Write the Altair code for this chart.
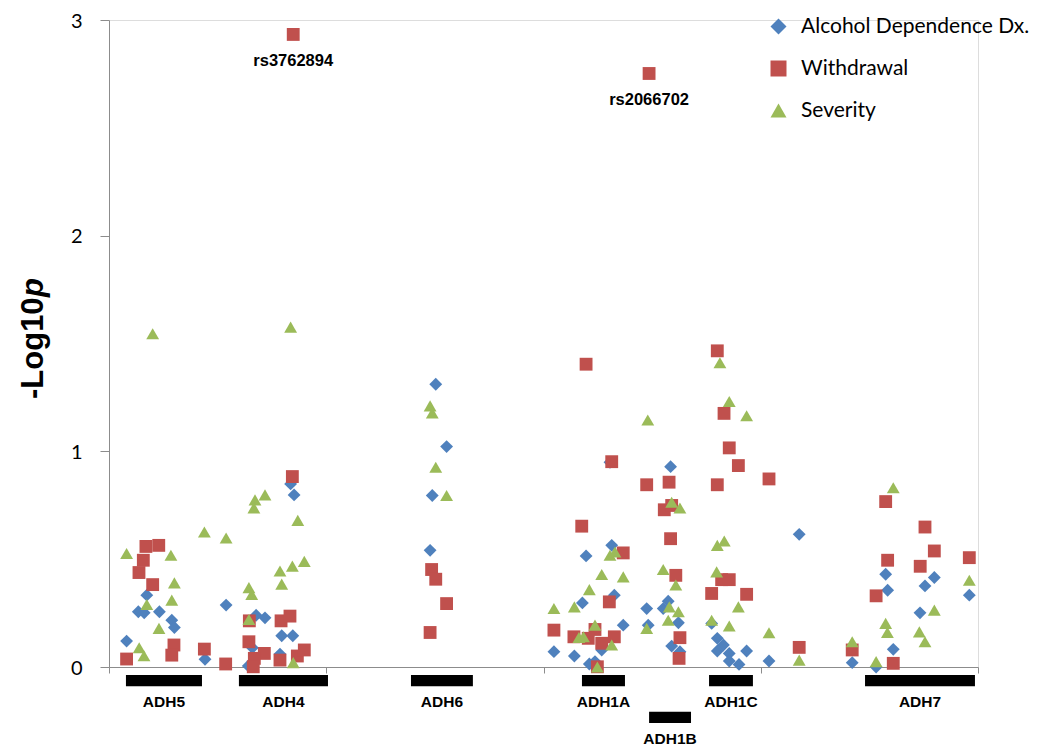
import altair as alt
import pandas as pd

# ---- data (x: position along the ADH cluster, axis spans 0-400; y: -log10 p) ----
series_names = ["Alcohol Dependence Dx.", "Withdrawal", "Severity"]
series_colors = ["#4F81BD", "#C0504D", "#9BBB59"]
series_shapes = ["diamond", "square", "triangle-up"]

ad_x = [17.4, 13.5, 16.2, 23.2, 28.9, 30.1, 8.1, 44.2, 53.9,
        83.6, 85.2, 67.7, 71.8, 79.5, 84.6, 66.0, 78.7, 64.1,
        150.4, 155.4, 148.8, 147.8,
        230.6, 231.4, 219.6, 232.6, 217.9, 236.7, 204.8, 214.2, 226.8, 221.1, 223.7,
        258.5, 247.5, 257.4, 255.1, 262.1, 248.2, 259.0, 262.8,
        317.7, 277.4, 280.0, 282.8, 280.0, 285.5, 293.5, 285.5, 290.0, 303.8,
        357.5, 379.9, 375.6, 358.4, 396.0, 373.3, 361.0, 342.1, 353.1]
ad_y = [0.333, 0.256, 0.251, 0.256, 0.217, 0.183, 0.120, 0.036, 0.287,
        0.849, 0.798, 0.240, 0.228, 0.145, 0.145, 0.089, 0.060, 0.005,
        1.311, 1.022, 0.795, 0.541,
        0.949, 0.564, 0.515, 0.333, 0.297, 0.194, 0.071, 0.051, 0.079, 0.014, 0.025,
        0.929, 0.271, 0.305, 0.271, 0.205, 0.194, 0.097, 0.071,
        0.615, 0.202, 0.133, 0.102, 0.074, 0.063, 0.074, 0.028, 0.012, 0.028,
        0.430, 0.415, 0.376, 0.356, 0.333, 0.251, 0.082, 0.020, 0.000]

wd_x = [17.0, 22.9, 15.8, 13.8, 20.1, 29.9, 28.9, 8.1, 43.9, 53.7,
        84.8, 84.4, 64.6, 79.2, 83.3, 64.4, 71.5, 66.9, 66.4, 78.7, 86.7, 89.9,
        148.5, 150.4, 155.4, 147.8,
        219.6, 231.4, 217.6, 236.7, 230.3, 204.8, 214.0, 223.7, 220.6, 226.8, 232.6, 224.8,
        248.6, 247.5, 257.8, 255.6, 259.0, 258.5, 260.9, 262.8, 262.4,
        280.0, 283.1, 285.5, 289.7, 303.8, 280.0, 282.0, 285.5, 277.4, 293.5, 317.7,
        357.5, 375.6, 379.9, 396.0, 358.4, 373.4, 353.1, 361.0, 342.1]
wd_y = [0.559, 0.564, 0.495, 0.438, 0.382, 0.102, 0.055, 0.037, 0.083, 0.014,
        2.933, 0.883, 0.214, 0.214, 0.236, 0.117, 0.063, 0.040, 0.001, 0.032, 0.051, 0.079,
        0.452, 0.407, 0.294, 0.160,
        1.404, 0.952, 0.653, 0.529, 0.302, 0.171, 0.140, 0.174, 0.133, 0.110, 0.140, 0.001,
        2.752, 0.845, 0.857, 0.729, 0.749, 0.595, 0.425, 0.136, 0.040,
        1.466, 1.176, 1.016, 0.934, 0.872, 0.845, 0.405, 0.405, 0.341, 0.337, 0.091,
        0.767, 0.649, 0.538, 0.507, 0.495, 0.467, 0.330, 0.017, 0.079]

sv_x = [20.1, 8.1, 28.5, 30.1, 28.9, 17.4, 23.0, 13.9, 16.1, 43.9, 53.9,
        83.6, 67.2, 71.8, 66.7, 86.9, 78.7, 84.4, 89.9, 64.4, 65.7, 79.5, 64.4, 84.8,
        147.8, 148.8, 150.4, 155.4,
        230.6, 232.9, 226.8, 236.7, 221.1, 204.8, 214.2, 223.7, 216.3, 218.4, 231.4, 224.8,
        248.0, 259.0, 262.8, 255.1, 260.9, 257.9, 262.1, 257.4, 247.5,
        281.2, 285.5, 293.5, 280.0, 283.2, 279.7, 289.7, 277.4, 285.5, 303.8, 317.7,
        361.0, 396.0, 379.9, 357.5, 358.3, 373.0, 375.6, 342.1, 353.1]
sv_y = [1.545, 0.526, 0.518, 0.390, 0.310, 0.290, 0.179, 0.089, 0.052, 0.626, 0.598,
        1.576, 0.775, 0.798, 0.738, 0.680, 0.445, 0.468, 0.490, 0.368, 0.337, 0.384, 0.220, 0.020,
        1.211, 1.178, 0.926, 0.795,
        0.518, 0.533, 0.429, 0.418, 0.359, 0.271, 0.279, 0.194, 0.137, 0.140, 0.102, 0.000,
        1.145, 0.764, 0.737, 0.452, 0.380, 0.279, 0.256, 0.217, 0.179,
        1.411, 1.231, 1.165, 0.564, 0.584, 0.441, 0.279, 0.217, 0.190, 0.159, 0.032,
        0.831, 0.402, 0.264, 0.202, 0.160, 0.163, 0.117, 0.117, 0.025]

gene_names = ["ADH5", "ADH4", "ADH6", "ADH1A", "ADH1B", "ADH1C", "ADH7"]
gene_start = [7.8, 59.8, 139.0, 217.7, 248.6, 276.2, 348.0]
gene_end = [42.8, 100.8, 167.5, 237.5, 267.9, 296.4, 398.6]
gene_row = [0, 0, 0, 0, 1, 0, 0]

snp_names = ["rs3762894", "rs2066702"]
snp_x = [84.8, 248.6]
snp_y = [2.933, 2.752]

# ---- tables ----
points = pd.concat([
    pd.DataFrame({"x": ad_x, "y": ad_y, "series": series_names[0]}),
    pd.DataFrame({"x": wd_x, "y": wd_y, "series": series_names[1]}),
    pd.DataFrame({"x": sv_x, "y": sv_y, "series": series_names[2]}),
], ignore_index=True)

row_step = 0.171
genes = pd.DataFrame({
    "gene": gene_names,
    "start": gene_start,
    "end": gene_end,
    "row": gene_row,
})
genes["mid"] = (genes["start"] + genes["end"]) / 2
genes["top"] = -0.037 - row_step * genes["row"]
genes["bot"] = genes["top"] - 0.052
genes["lab"] = -0.163 - row_step * genes["row"]

snps = pd.DataFrame({"snp": snp_names, "x": snp_x, "y": snp_y})

xscale = alt.Scale(domain=[0, 400], nice=False, zero=False)
yscale = alt.Scale(domain=[0, 3], nice=False)

legend = alt.Legend(
    orient="none", legendX=659, legendY=-4, padding=0,
    symbolSize=256, symbolStrokeWidth=0,
    labelFont="Lato", labelFontSize=21, labelColor="#000000",
    labelOffset=12, rowPadding=20, labelLimit=400,
)

pts = alt.Chart(points).mark_point(filled=True, opacity=1, size=165).encode(
    x=alt.X("x:Q", scale=xscale,
            axis=alt.Axis(values=[0, 100, 200, 300, 400], labels=False, title=None,
                          grid=False, tickSize=6, domainColor="#8c8c8c",
                          tickColor="#8c8c8c")),
    y=alt.Y("y:Q", scale=yscale,
            axis=alt.Axis(values=[0, 1, 2, 3], format="d", title=None, grid=False,
                          tickSize=9, labelPadding=18, labelFont="Lato",
                          labelFontSize=20, labelOffset=1, labelColor="#000000",
                          domainColor="#8c8c8c", tickColor="#8c8c8c")),
    color=alt.Color("series:N", title=None,
                    scale=alt.Scale(domain=series_names, range=series_colors),
                    legend=legend),
    shape=alt.Shape("series:N", title=None,
                    scale=alt.Scale(domain=series_names, range=series_shapes),
                    legend=legend),
)

bars = alt.Chart(genes).mark_rect(color="#000000").encode(
    x=alt.X("start:Q", scale=xscale), x2="end:Q",
    y=alt.Y("top:Q", scale=yscale), y2="bot:Q",
)

gene_text = alt.Chart(genes).mark_text(
    font="Liberation Sans", fontWeight="bold", fontSize=15.5, color="#000000",
    baseline="middle", align="center",
).encode(
    x=alt.X("mid:Q", scale=xscale), y=alt.Y("lab:Q", scale=yscale), text="gene:N"
)

snp_text = alt.Chart(snps).mark_text(
    font="Liberation Sans", fontWeight="bold", fontSize=16.5, color="#000000",
    baseline="middle", align="center", dy=27,
).encode(
    x=alt.X("x:Q", scale=xscale), y=alt.Y("y:Q", scale=yscale), text="snp:N"
)

title_a = alt.Chart(pd.DataFrame({"t": ["-Log10"]})).mark_text(
    font="Liberation Sans", fontWeight="bold", fontSize=31, color="#000000",
    angle=270, align="left", baseline="alphabetic",
).encode(x=alt.value(-66), y=alt.value(379), text="t:N")

title_b = alt.Chart(pd.DataFrame({"t": ["p"]})).mark_text(
    font="Liberation Sans", fontWeight="bold", fontStyle="italic", fontSize=31,
    color="#000000", angle=270, align="left", baseline="alphabetic",
).encode(x=alt.value(-66), y=alt.value(277), text="t:N")

chart = alt.layer(bars, gene_text, pts, snp_text, title_a, title_b).properties(
    width=869, height=647,
    autosize=alt.AutoSizeParams(type="none"),
    padding={"left": 101, "top": 12, "right": 63, "bottom": 82},
).configure_view(strokeWidth=0).configure(background="#ffffff")

chart.save("out.html", embed_options={"renderer": "svg", "actions": False})
